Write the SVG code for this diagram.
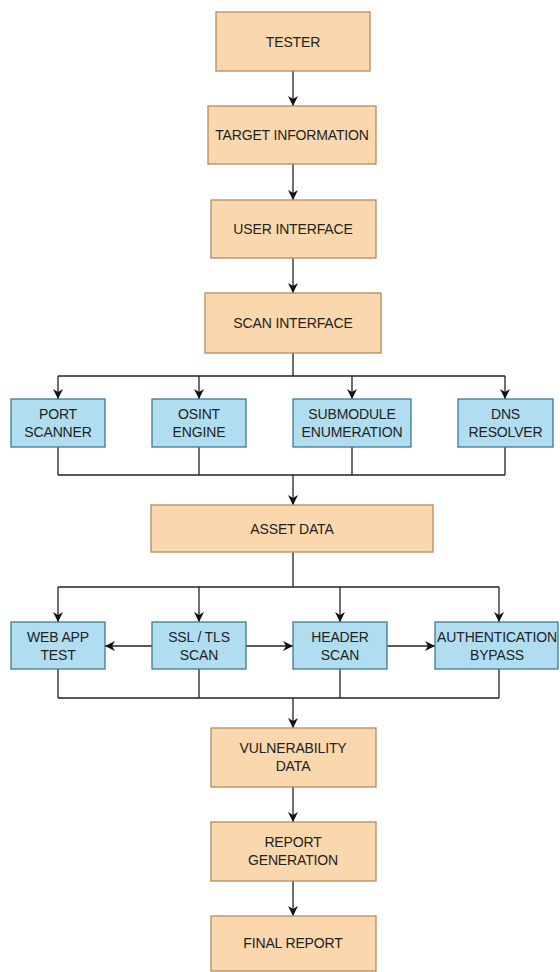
<svg xmlns="http://www.w3.org/2000/svg" width="560" height="972" viewBox="0 0 560 972">
<defs>
<style>
.o rect{fill:#fad7ac;stroke:#b78a5e;stroke-width:1.3}
.b rect{fill:#b1ddf0;stroke:#3d7a96;stroke-width:1.3}
text{font-family:"Liberation Sans",Arial,sans-serif;font-size:14px;fill:#222;text-anchor:middle;letter-spacing:-0.15px}
#connectors path{fill:none;stroke:#222;stroke-width:1.3}
.a{marker-end:url(#arr)}
</style>
<marker id="arr" viewBox="0 0 10 10" refX="10" refY="5" markerWidth="11" markerHeight="10" orient="auto" markerUnits="userSpaceOnUse">
<path d="M0,0 L10,5 L0,10 L3,5 z" fill="#111"/>
</marker>
</defs>
<rect width="560" height="972" fill="#fff"/>
<g id="connectors">
<path class="a" d="M293,71 V106"/>
<path class="a" d="M293,164 V200"/>
<path class="a" d="M293,258 V293"/>
<path d="M293,353 V376 M58,376 H505"/>
<path class="a" d="M58,376 V399"/>
<path class="a" d="M199,376 V399"/>
<path class="a" d="M352,376 V399"/>
<path class="a" d="M505,376 V399"/>
<path d="M58,447 V475 M199,447 V475 M352,447 V475 M505,447 V475 M58,475 H505"/>
<path class="a" d="M293,475 V505"/>
<path d="M293,552 V587 M58,587 H499"/>
<path class="a" d="M58,587 V622"/>
<path class="a" d="M199,587 V622"/>
<path class="a" d="M340,587 V622"/>
<path class="a" d="M499,587 V622"/>
<path class="a" d="M152,646 H105"/>
<path class="a" d="M246,646 H293"/>
<path class="a" d="M387,646 H435"/>
<path d="M58,669 V698 M199,669 V698 M340,669 V698 M499,669 V698 M58,698 H499"/>
<path class="a" d="M293,698 V728"/>
<path class="a" d="M293,787 V822"/>
<path class="a" d="M293,881 V916"/>
</g>
<g id="tester" class="o"><rect x="216" y="12" width="154" height="59"/><text x="293" y="47">TESTER</text></g>
<g id="target-information" class="o"><rect x="208" y="106" width="168" height="58"/><text x="292" y="140">TARGET INFORMATION</text></g>
<g id="user-interface" class="o"><rect x="211" y="200" width="165" height="58"/><text x="293" y="234">USER INTERFACE</text></g>
<g id="scan-interface" class="o"><rect x="205" y="293" width="176" height="60"/><text x="293" y="328">SCAN INTERFACE</text></g>
<g id="port-scanner" class="b"><rect x="11" y="399" width="94" height="48"/><text x="58" y="419">PORT</text><text x="58" y="437">SCANNER</text></g>
<g id="osint-engine" class="b"><rect x="152" y="399" width="94" height="48"/><text x="199" y="419">OSINT</text><text x="199" y="437">ENGINE</text></g>
<g id="submodule-enumeration" class="b"><rect x="293" y="399" width="118" height="48"/><text x="352" y="419">SUBMODULE</text><text x="352" y="437">ENUMERATION</text></g>
<g id="dns-resolver" class="b"><rect x="458" y="399" width="95" height="48"/><text x="505.5" y="419">DNS</text><text x="505.5" y="437">RESOLVER</text></g>
<g id="asset-data" class="o"><rect x="151" y="505" width="282" height="47"/><text x="292" y="533.5">ASSET DATA</text></g>
<g id="web-app-test" class="b"><rect x="11" y="622" width="94" height="47"/><text x="58" y="641.5">WEB APP</text><text x="58" y="659.5">TEST</text></g>
<g id="ssl-tls-scan" class="b"><rect x="152" y="622" width="94" height="47"/><text x="199" y="641.5">SSL / TLS</text><text x="199" y="659.5">SCAN</text></g>
<g id="header-scan" class="b"><rect x="293" y="622" width="94" height="47"/><text x="340" y="641.5">HEADER</text><text x="340" y="659.5">SCAN</text></g>
<g id="authentication-bypass" class="b"><rect x="435" y="622" width="123" height="47"/><text x="497" y="641.5">AUTHENTICATION</text><text x="497" y="659.5">BYPASS</text></g>
<g id="vulnerability-data" class="o"><rect x="211" y="728" width="165" height="59"/><text x="293" y="752.5">VULNERABILITY</text><text x="293" y="770.5">DATA</text></g>
<g id="report-generation" class="o"><rect x="211" y="822" width="165" height="59"/><text x="293" y="846.5">REPORT</text><text x="293" y="864.5">GENERATION</text></g>
<g id="final-report" class="o"><rect x="211" y="916" width="165" height="55"/><text x="293" y="948">FINAL REPORT</text></g>
</svg>
